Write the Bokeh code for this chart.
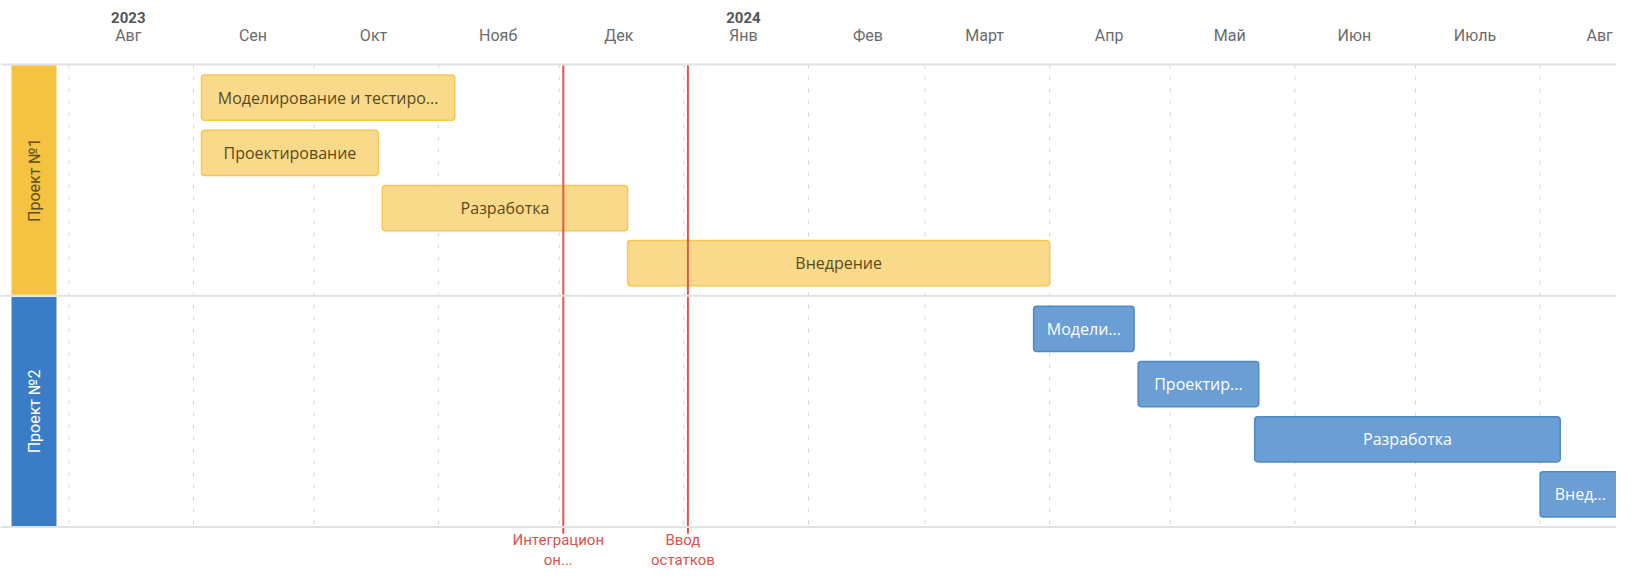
from datetime import datetime, timedelta
from math import pi

from bokeh.plotting import figure
from bokeh.models import Range1d, BoxAnnotation, Label, Span, ColumnDataSource
from bokeh.core.properties import value
from bokeh.embed import file_html
from bokeh.resources import INLINE

# ---------------- data ----------------
month_labels = ["Авг", "Сен", "Окт", "Нояб", "Дек", "Янв", "Фев", "Март",
                "Апр", "Май", "Июн", "Июль", "Авг"]
month_starts = ["2023-08-01", "2023-09-01", "2023-10-01", "2023-11-01",
                "2023-12-01", "2024-01-01", "2024-02-01", "2024-03-01",
                "2024-04-01", "2024-05-01", "2024-06-01", "2024-07-01",
                "2024-08-01"]
year_labels = ["2023", "2024"]
year_months = ["2023-08-01", "2024-01-01"]

projects = ["Проект №1", "Проект №2"]
task_project = [0, 0, 0, 0, 1, 1, 1, 1]
task_row = [0, 1, 2, 3, 0, 1, 2, 3]
task_names = ["Моделирование и тестиро...", "Проектирование", "Разработка",
              "Внедрение", "Модели...", "Проектир...", "Разработка", "Внед..."]
task_start = ["2023-09-03", "2023-09-03", "2023-10-18", "2023-12-18",
              "2024-03-28", "2024-04-23", "2024-05-22", "2024-08-01"]
task_end = ["2023-11-05", "2023-10-17", "2023-12-18", "2024-04-01",
            "2024-04-22", "2024-05-23", "2024-08-06", "2024-08-21"]

milestone_dates = ["2023-12-02", "2024-01-02"]
milestone_labels = ["Интеграцион\nон...", "Ввод\nостатков"]

view_start = "2023-07-15"
view_end = "2024-08-20"

# ---------------- styling ----------------
band_colors = ["#F5C242", "#3A7DC6"]
band_text_colors = ["#5E4D1F", "#FFFFFF"]
bar_fill = ["#F9DA8B", "#6A9ED5"]
bar_line = ["#F5C84E", "#4E8AC8"]
bar_text = ["#5A4A1C", "#FFFFFF"]

ROWS_PER_PROJECT = 4.19
FIRST_ROW = 0.6
BAR_H = 0.82

d = lambda s: datetime.strptime(s, "%Y-%m-%d")

W, H = 1616, 569
p = figure(width=W, height=H, output_backend="svg", toolbar_location=None,
           x_axis_type="datetime", x_axis_location=None, y_axis_location=None,
           x_range=Range1d(d(view_start), d(view_end)),
           y_range=Range1d(9.149, -1.1594),
           min_border=0, outline_line_color=None, background_fill_color="white",
           border_fill_color="white")
p.xgrid.visible = False
p.ygrid.visible = False

total = ROWS_PER_PROJECT * len(projects)

# dashed month gridlines
ms = [d(s) for s in month_starts]
p.segment(x0=ms, x1=ms, y0=[0] * len(ms), y1=[total] * len(ms),
          line_color="#D6D6D6", line_width=1, line_dash="4 8")

# borders
for k in range(len(projects) + 1):
    p.add_layout(Span(location=k * ROWS_PER_PROJECT, dimension="width",
                      line_color="#E2E2E2", line_width=2))

# project bands
for g, name in enumerate(projects):
    p.add_layout(BoxAnnotation(left=11, right=56, left_units="screen", right_units="screen",
                               top=g * ROWS_PER_PROJECT + 0.02,
                               bottom=(g + 1) * ROWS_PER_PROJECT - 0.02,
                               fill_color=band_colors[g], fill_alpha=1.0,
                               line_color=None, level="overlay"))
for g, name in enumerate(projects):
    p.add_layout(Label(x=34, x_units="screen",
                       y=g * ROWS_PER_PROJECT + ROWS_PER_PROJECT / 2,
                       text=name, angle=pi / 2, text_align="center",
                       text_baseline="middle", text_color=band_text_colors[g],
                       text_font="Roboto", text_font_size="16px", level="overlay"))

# bars
ys = [task_project[i] * ROWS_PER_PROJECT + FIRST_ROW + task_row[i] for i in range(len(task_names))]
st = [d(s) for s in task_start]
en = [d(s) for s in task_end]
mid = [a + (b - a) / 2 for a, b in zip(st, en)]
src = ColumnDataSource(dict(
    left=st, right=en, top=[y - BAR_H / 2 for y in ys], bottom=[y + BAR_H / 2 for y in ys],
    y=ys, mid=mid, name=task_names,
    fill=[bar_fill[g] for g in task_project], line=[bar_line[g] for g in task_project],
    tc=[bar_text[g] for g in task_project]))
p.quad(left="left", right="right", top="top", bottom="bottom", source=src,
       fill_color="fill", line_color="line", line_width=1.5, border_radius=3)
p.text(x="mid", y="y", text="name", source=src, text_color="tc",
       text_align="center", text_baseline="middle",
       text_font=value("Open Sans"), text_font_size="16px")

# milestones
md = [d(s) for s in milestone_dates]
p.segment(x0=md, x1=md, y0=[0] * len(md), y1=[8.5] * len(md),
          line_color="#E0574C", line_width=2)
p.text(x=md, y=[8.80] * len(md), text=milestone_labels, text_align="center",
       text_baseline="middle", text_color="#D9534F", text_line_height=1.1,
       x_offset=-5, text_font=value("Roboto"), text_font_size="15px")

# month header
mm = [s + timedelta(days=14.8) for s in ms]
p.text(x=mm, y=[-0.534] * len(mm), text=month_labels, text_align="center",
       text_baseline="middle", text_color="#6B6B6B",
       text_font=value("Roboto"), text_font_size="16px")
ym = [d(s) + timedelta(days=14.8) for s in year_months]
p.text(x=ym, y=[-0.851] * len(ym), text=year_labels, text_align="center",
       text_baseline="middle", text_color="#555555", text_font_style="bold",
       text_font=value("Roboto"), text_font_size="15px")

open("out.html", "w").write(file_html(p, INLINE))
